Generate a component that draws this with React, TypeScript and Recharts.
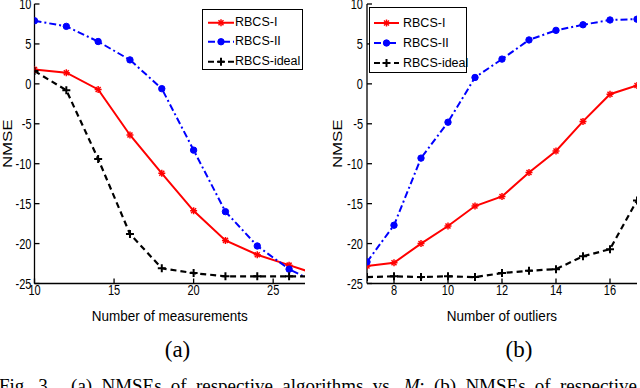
import { LineChart, Line, XAxis, YAxis, Legend } from 'recharts';

// (a) NMSE vs number of measurements (axis stops at 27, last point runs past it)
const measurements = [10, 12, 14, 16, 18, 20, 22, 24, 26, 28];
const measRbcs1 = [1.8, 1.4, -0.7, -6.4, -11.2, -15.9, -19.6, -21.4, -22.7, -24.0];
const measRbcs2 = [7.9, 7.2, 5.3, 3.0, -0.6, -8.3, -16.0, -20.3, -23.2, -25.2];
const measIdeal = [1.6, -0.8, -9.4, -18.8, -23.1, -23.7, -24.1, -24.1, -24.1, -24.1];

// (b) NMSE vs number of outliers
const outliers = [7, 8, 9, 10, 11, 12, 13, 14, 15, 16, 17];
const outRbcs1 = [-22.8, -22.4, -20.0, -17.8, -15.3, -14.1, -11.1, -8.4, -4.7, -1.3, -0.2];
const outRbcs2 = [-22.3, -17.7, -9.3, -4.8, 0.8, 3.1, 5.5, 6.7, 7.4, 8.0, 8.1];
const outIdeal = [-24.2, -24.1, -24.2, -24.1, -24.2, -23.7, -23.4, -23.2, -21.6, -20.7, -14.6];

const measTicks = [10, 15, 20, 25];
const outTicks = [8, 10, 12, 14, 16];
const nmseTicks = [-25, -20, -15, -10, -5, 0, 5, 10];

const seriesNames = ['RBCS-I', 'RBCS-II', 'RBCS-ideal'];

const FONT = '"Liberation Sans", Arial, Helvetica, sans-serif';
const SERIF = '"Liberation Serif", "Times New Roman", serif';
// the original figure is stretched vertically, so its axis text is taller than wide
const STRETCH = 1.27;

const dataA = measurements.map((x, i) => ({ x, r1: measRbcs1[i], r2: measRbcs2[i], ri: measIdeal[i] }));
const dataB = outliers.map((x, i) => ({ x, r1: outRbcs1[i], r2: outRbcs2[i], ri: outIdeal[i] }));

function Marker({ kind, cx, cy }: { kind: string; cx: number; cy: number }) {
  if (kind === 'r1') {
    const r = 3.5;
    const d = 2.5;
    return (
      <g stroke="#ff0000" strokeWidth={1.5}>
        <line x1={cx - r} y1={cy} x2={cx + r} y2={cy} />
        <line x1={cx} y1={cy - r} x2={cx} y2={cy + r} />
        <line x1={cx - d} y1={cy - d} x2={cx + d} y2={cy + d} />
        <line x1={cx - d} y1={cy + d} x2={cx + d} y2={cy - d} />
      </g>
    );
  }
  if (kind === 'r2') return <circle cx={cx} cy={cy} r={3.2} fill="#0000ff" stroke="#0000ff" />;
  const p = 4;
  return (
    <g stroke="#000" strokeWidth={2}>
      <line x1={cx - p} y1={cy} x2={cx + p} y2={cy} />
      <line x1={cx} y1={cy - p} x2={cx} y2={cy + p} />
    </g>
  );
}

const styles: Record<string, { color: string; dash?: string; width: number }> = {
  r1: { color: '#ff0000', width: 2 },
  r2: { color: '#0000ff', dash: '7 3 2 3', width: 2 },
  ri: { color: '#000000', dash: '6 4', width: 2.2 },
};

const dotFor = (kind: string) => (p: any) =>
  p.cx == null || p.cy == null ? <g key={p.index} /> : <Marker key={p.index} kind={kind} cx={p.cx} cy={p.cy} />;

const stretchAt = (x: number, y: number, sx: number, sy: number) =>
  `translate(${x} ${y}) scale(${sx} ${sy}) translate(${-x} ${-y})`;

const xTick = (p: any) => (
  <text
    x={p.x}
    y={p.y}
    dy="0.72em"
    textAnchor="middle"
    transform={stretchAt(p.x, p.y, 1, STRETCH)}
    fontSize={11}
    fontFamily={FONT}
    fill="#000"
  >
    {p.payload.value}
  </text>
);

const yTick = (p: any) => (
  <text
    x={p.x}
    y={p.y}
    dy="0.36em"
    textAnchor="end"
    transform={stretchAt(p.x, p.y, 1, STRETCH)}
    fontSize={11}
    fontFamily={FONT}
    fill="#000"
  >
    {p.payload.value}
  </text>
);

function LegendBox({ pad, rowH, x0, x1, tx }: { pad: number; rowH: number; x0: number; x1: number; tx: number }) {
  return (
    <div
      style={{
        width: '100%',
        height: '100%',
        boxSizing: 'border-box',
        border: '1.5px solid #000',
        background: '#fff',
        paddingTop: pad,
        fontFamily: FONT,
        fontSize: 12.5,
        color: '#000',
      }}
    >
      {['r1', 'r2', 'ri'].map((k, i) => {
        const s = styles[k];
        return (
          <div key={k} style={{ position: 'relative', height: rowH }}>
            <svg width={tx} height={rowH} style={{ position: 'absolute', left: 0, top: 0 }}>
              <line
                x1={x0}
                x2={x1}
                y1={rowH / 2}
                y2={rowH / 2}
                stroke={s.color}
                strokeWidth={s.width}
                strokeDasharray={s.dash}
              />
              <Marker kind={k} cx={(x0 + x1) / 2} cy={rowH / 2} />
            </svg>
            <span style={{ position: 'absolute', left: tx, top: 0, lineHeight: `${rowH}px`, whiteSpace: 'nowrap' }}>
              {seriesNames[i]}
            </span>
          </div>
        );
      })}
    </div>
  );
}

const nmseLabel = (cx: number) => (props: any) => {
  const vb = props.viewBox || { y: 4, height: 279.5 };
  const cy = vb.y + vb.height / 2;
  return (
    <text
      x={0}
      y={0}
      transform={`translate(${cx} ${cy}) rotate(-90) scale(1.25 1)`}
      textAnchor="middle"
      dominantBaseline="central"
      fontSize={13.5}
      fontFamily={FONT}
      fill="#000"
    >
      NMSE
    </text>
  );
};

const xTitleLabel = (title: string) => (props: any) => {
  const vb = props.viewBox || { x: 0, y: 283.5, width: 300 };
  const cx = vb.x + vb.width / 2;
  const by = 321.5;
  return (
    <text
      x={cx}
      y={by}
      textAnchor="middle"
      transform={stretchAt(cx, by, 1, 1.12)}
      fontSize={13.5}
      fontFamily={FONT}
      fill="#000"
    >
      {title}
    </text>
  );
};

interface PanelProps {
  data: any[];
  width: number;
  marginRight: number;
  yWidth: number;
  domain: [number, number];
  xTicks: number[];
  xTitle: string;
  labelX: number;
  yTickMargin: number;
  legend: { left: number; top: number; w: number; h: number; pad: number; rowH: number; x0: number; x1: number; tx: number };
}

function Panel({ data, width, marginRight, yWidth, domain, xTicks, xTitle, labelX, yTickMargin, legend }: PanelProps) {
  const axisLine = { stroke: '#000', strokeWidth: 1.3 };
  return (
    <LineChart width={width} height={330} data={data} margin={{ top: 4, right: marginRight, left: 0, bottom: 0 }}>
      <XAxis
        dataKey="x"
        type="number"
        domain={domain}
        ticks={xTicks}
        allowDataOverflow
        interval={0}
        height={46.5}
        tickSize={-5}
        tickMargin={6.5}
        tick={xTick}
        axisLine={axisLine}
        tickLine={axisLine}
        label={xTitleLabel(xTitle)}
      />
      <XAxis
        xAxisId="top"
        orientation="top"
        dataKey="x"
        type="number"
        domain={domain}
        ticks={xTicks}
        allowDataOverflow
        height={0}
        tickSize={-5}
        tick={false}
        axisLine={axisLine}
        tickLine={axisLine}
      />
      <YAxis
        type="number"
        domain={[-25, 10]}
        ticks={nmseTicks}
        allowDataOverflow
        interval={0}
        width={yWidth}
        tickSize={-5}
        tickMargin={yTickMargin}
        tick={yTick}
        axisLine={axisLine}
        tickLine={axisLine}
        label={nmseLabel(labelX)}
      />
      <YAxis
        yAxisId="right"
        orientation="right"
        type="number"
        domain={[-25, 10]}
        ticks={nmseTicks}
        allowDataOverflow
        width={0}
        tickSize={-5}
        tick={false}
        axisLine={axisLine}
        tickLine={axisLine}
      />
      <Legend
        layout="vertical"
        align="center"
        verticalAlign="middle"
        wrapperStyle={{ left: legend.left, top: legend.top, width: legend.w, height: legend.h, margin: 0 }}
        content={() => (
          <LegendBox pad={legend.pad} rowH={legend.rowH} x0={legend.x0} x1={legend.x1} tx={legend.tx} />
        )}
      />
      {['r1', 'r2', 'ri'].map((k, i) => (
        <Line
          key={k}
          name={seriesNames[i]}
          dataKey={k}
          type="linear"
          stroke={styles[k].color}
          strokeWidth={styles[k].width}
          strokeDasharray={styles[k].dash}
          dot={dotFor(k)}
          activeDot={false}
          isAnimationActive={false}
        />
      ))}
    </LineChart>
  );
}

export default function App() {
  return (
    <div
      style={{
        position: 'absolute',
        left: 0,
        top: 0,
        width: 640,
        height: 388,
        overflow: 'hidden',
        background: '#fff',
      }}
    >
      <svg width={640} height={388} style={{ position: 'absolute', left: 0, top: 0 }}>
        <text x={177.5} y={356.5} textAnchor="middle" fontFamily={SERIF} fontSize={23} fill="#000">
          (a)
        </text>
        <text x={519} y={356.5} textAnchor="middle" fontFamily={SERIF} fontSize={23} fill="#000">
          (b)
        </text>
        <text
          x={-1}
          y={392}
          fontFamily={SERIF}
          fontSize={19}
          fill="#000"
          style={{ whiteSpace: 'pre', wordSpacing: 4.5 }}
        >
          {'Fig. 3.  (a) NMSEs of respective algorithms vs. '}
          <tspan fontStyle="italic">M</tspan>
          {'; (b) NMSEs of respective'}
        </text>
      </svg>
      <div style={{ position: 'absolute', left: 0, top: 0 }}>
        <Panel
          data={dataA}
          width={310}
          marginRight={5}
          yWidth={34.5}
          domain={[10, 27]}
          xTicks={measTicks}
          xTitle="Number of measurements"
          labelX={7}
          yTickMargin={8}
          legend={{ left: 202, top: 9, w: 101, h: 61, pad: 2.5, rowH: 19.5, x0: 5, x1: 31, tx: 32 }}
        />
      </div>
      <div style={{ position: 'absolute', left: 320, top: 0 }}>
        <Panel
          data={dataB}
          width={320}
          marginRight={3}
          yWidth={47}
          domain={[7, 17]}
          xTicks={outTicks}
          xTitle="Number of outliers"
          labelX={17}
          yTickMargin={9}
          legend={{ left: 49, top: 7, w: 98, h: 66, pad: 5, rowH: 20, x0: 4, x1: 29, tx: 33 }}
        />
      </div>
    </div>
  );
}
